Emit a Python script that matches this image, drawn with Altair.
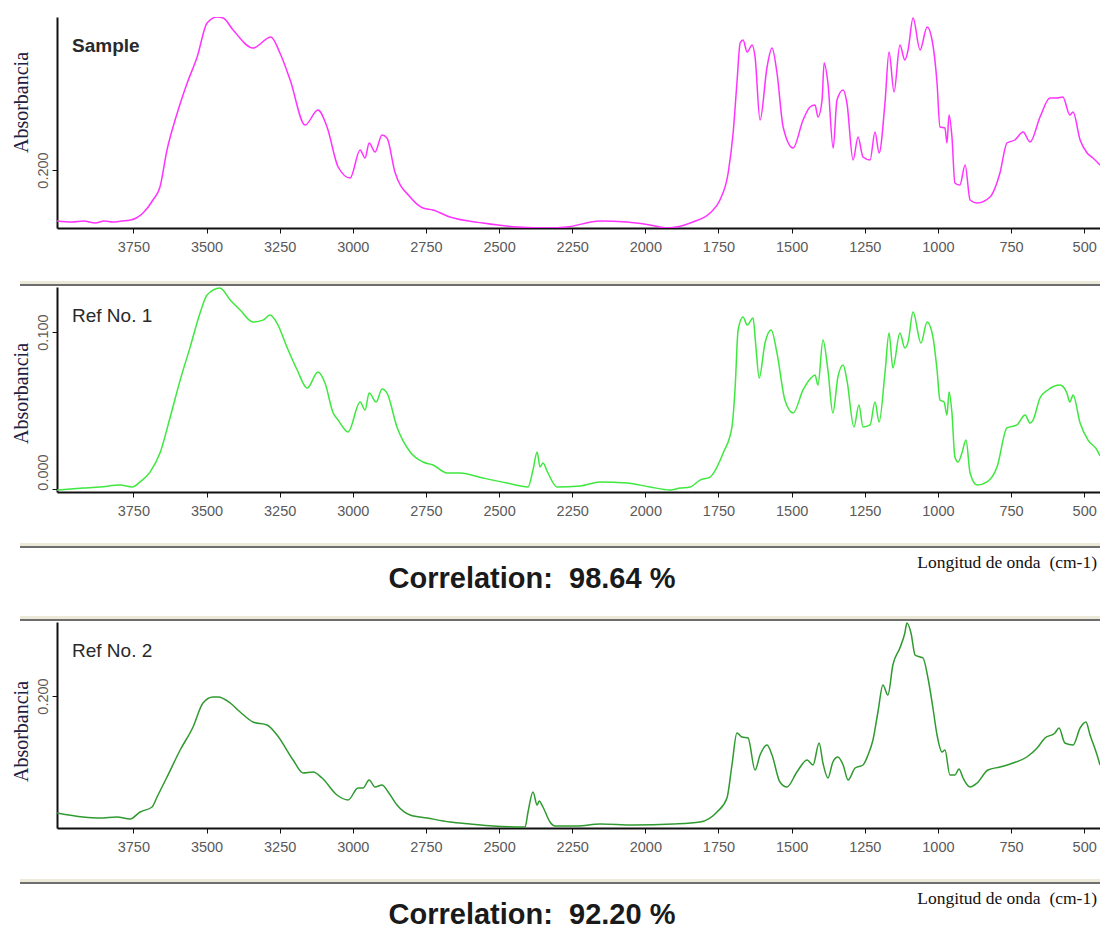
import altair as alt
import pandas as pd

# ---------------- data ----------------
sample_wn = [4011, 3960, 3920, 3880, 3850, 3820, 3790, 3760, 3740, 3717, 3683, 3659, 3635, 3600,
             3566, 3532, 3498, 3464, 3443, 3409, 3341, 3280, 3249, 3214, 3163, 3119, 3088, 3050,
             3009, 2975, 2958, 2944, 2924, 2900, 2883, 2856, 2804, 2760, 2726, 2668, 2555, 2439,
             2326, 2268, 2155, 2063, 1984, 1926, 1837, 1779, 1745, 1717, 1700, 1687, 1676, 1666,
             1652, 1635, 1625, 1608, 1584, 1567, 1550, 1529, 1495, 1461, 1437, 1420, 1410, 1396,
             1389, 1376, 1358, 1345, 1324, 1311, 1290, 1273, 1256, 1232, 1215, 1201, 1181, 1167,
             1150, 1130, 1113, 1102, 1085, 1061, 1037, 1020, 1003, 993, 976, 969, 962, 952, 942,
             925, 907, 890, 866, 822, 788, 764, 737, 709, 685, 651, 617, 593, 573, 549, 538, 514,
             490, 470, 446]
sample_abs = [0.149, 0.148, 0.149, 0.147, 0.149, 0.148, 0.149, 0.150, 0.152, 0.157, 0.170, 0.183,
              0.220, 0.257, 0.287, 0.313, 0.347, 0.353, 0.352, 0.340, 0.322, 0.333, 0.317, 0.290,
              0.245, 0.260, 0.243, 0.203, 0.192, 0.220, 0.212, 0.227, 0.218, 0.235, 0.232, 0.198,
              0.173, 0.162, 0.160, 0.153, 0.147, 0.143, 0.142, 0.143, 0.149, 0.148, 0.145, 0.142,
              0.148, 0.157, 0.170, 0.197, 0.237, 0.287, 0.327, 0.330, 0.318, 0.325, 0.313, 0.250,
              0.303, 0.322, 0.297, 0.243, 0.222, 0.250, 0.263, 0.265, 0.253, 0.270, 0.307, 0.287,
              0.222, 0.270, 0.280, 0.267, 0.210, 0.233, 0.213, 0.210, 0.238, 0.217, 0.267, 0.318,
              0.278, 0.325, 0.310, 0.320, 0.352, 0.320, 0.343, 0.330, 0.287, 0.243, 0.242, 0.227,
              0.255, 0.233, 0.187, 0.185, 0.205, 0.170, 0.167, 0.173, 0.197, 0.227, 0.230, 0.238,
              0.228, 0.253, 0.272, 0.272, 0.273, 0.255, 0.258, 0.230, 0.217, 0.212, 0.205]

ref1_wn = [4011, 3922, 3864, 3795, 3754, 3727, 3693, 3659, 3624, 3590, 3556, 3522, 3498, 3454,
           3419, 3385, 3341, 3307, 3283, 3259, 3225, 3190, 3156, 3119, 3095, 3067, 3050, 3016,
           2975, 2958, 2944, 2920, 2900, 2883, 2849, 2804, 2760, 2726, 2678, 2633, 2555, 2473,
           2401, 2384, 2370, 2360, 2350, 2333, 2302, 2223, 2155, 2063, 1984, 1916, 1881, 1847,
           1813, 1779, 1734, 1704, 1693, 1683, 1666, 1652, 1632, 1622, 1611, 1591, 1570, 1550,
           1523, 1495, 1461, 1434, 1420, 1410, 1393, 1376, 1359, 1342, 1324, 1311, 1287, 1270,
           1256, 1232, 1215, 1201, 1181, 1167, 1154, 1130, 1113, 1102, 1085, 1058, 1037, 1017,
           1003, 993, 979, 969, 962, 952, 942, 931, 918, 904, 890, 866, 832, 798, 764, 730, 702,
           685, 675, 651, 624, 583, 559, 549, 538, 514, 487, 456, 446]
ref1_abs = [-0.0006, 0.0006, 0.0013, 0.0025, 0.0013, 0.0045, 0.0108, 0.0229, 0.0459, 0.0694,
            0.0904, 0.1121, 0.1236, 0.1280, 0.1204, 0.1140, 0.1064, 0.1076, 0.1108, 0.1057,
            0.0904, 0.0758, 0.0643, 0.0745, 0.0675, 0.0484, 0.0439, 0.0363, 0.0554, 0.0503,
            0.0611, 0.0554, 0.0637, 0.0611, 0.0395, 0.0236, 0.0172, 0.0153, 0.0102, 0.0102,
            0.0070, 0.0038, 0.0013, 0.0121, 0.0236, 0.0140, 0.0166, 0.0102, 0.0013, 0.0019,
            0.0045, 0.0038, 0.0013, -0.0006, 0.0006, 0.0013, 0.0057, 0.0076, 0.0229, 0.0395,
            0.0650, 0.1013, 0.1096, 0.1045, 0.1089, 0.0904, 0.0707, 0.0930, 0.1013, 0.0866,
            0.0567, 0.0484, 0.0631, 0.0707, 0.0726, 0.0662, 0.0949, 0.0758, 0.0484, 0.0713,
            0.0790, 0.0694, 0.0395, 0.0535, 0.0395, 0.0408, 0.0554, 0.0427, 0.0739, 0.0994,
            0.0771, 0.0994, 0.0898, 0.0936, 0.1127, 0.0930, 0.1064, 0.0968, 0.0758, 0.0567,
            0.0554, 0.0471, 0.0618, 0.0484, 0.0204, 0.0172, 0.0229, 0.0312, 0.0102, 0.0025,
            0.0045, 0.0140, 0.0389, 0.0408, 0.0471, 0.0420, 0.0439, 0.0580, 0.0631, 0.0662,
            0.0611, 0.0554, 0.0599, 0.0420, 0.0312, 0.0248, 0.0210]

ref2_wn = [4011, 3922, 3864, 3806, 3761, 3727, 3686, 3669, 3635, 3590, 3546, 3512, 3478, 3460,
           3419, 3385, 3341, 3293, 3259, 3204, 3170, 3136, 3105, 3054, 3016, 2982, 2965, 2944,
           2924, 2900, 2879, 2849, 2804, 2746, 2668, 2599, 2521, 2411, 2401, 2384, 2370, 2363,
           2350, 2326, 2309, 2233, 2155, 2042, 1905, 1813, 1755, 1721, 1704, 1687, 1670, 1649,
           1625, 1608, 1584, 1567, 1540, 1516, 1482, 1447, 1427, 1406, 1393, 1376, 1359, 1342,
           1324, 1307, 1283, 1256, 1239, 1222, 1205, 1188, 1171, 1154, 1130, 1113, 1106, 1092,
           1078, 1061, 1051, 1034, 1017, 1003, 986, 976, 959, 942, 928, 914, 890, 866, 829, 788,
           743, 696, 661, 634, 600, 586, 566, 538, 514, 494, 480, 456, 446]
ref2_abs = [0.083, 0.079, 0.078, 0.079, 0.077, 0.084, 0.089, 0.099, 0.119, 0.146, 0.169, 0.193,
            0.199, 0.199, 0.193, 0.184, 0.174, 0.171, 0.161, 0.136, 0.123, 0.124, 0.118, 0.101,
            0.096, 0.108, 0.108, 0.116, 0.109, 0.111, 0.104, 0.091, 0.081, 0.078, 0.074, 0.072,
            0.070, 0.069, 0.084, 0.104, 0.091, 0.095, 0.089, 0.074, 0.070, 0.070, 0.072, 0.071,
            0.072, 0.074, 0.084, 0.098, 0.131, 0.163, 0.159, 0.158, 0.126, 0.141, 0.151, 0.141,
            0.114, 0.109, 0.124, 0.136, 0.131, 0.153, 0.133, 0.118, 0.134, 0.139, 0.131, 0.116,
            0.128, 0.131, 0.141, 0.156, 0.184, 0.211, 0.201, 0.231, 0.248, 0.263, 0.273, 0.263,
            0.241, 0.239, 0.238, 0.218, 0.188, 0.161, 0.144, 0.146, 0.121, 0.121, 0.127, 0.118,
            0.109, 0.113, 0.126, 0.129, 0.133, 0.139, 0.148, 0.158, 0.163, 0.168, 0.153, 0.151,
            0.168, 0.174, 0.161, 0.141, 0.131]

x_ticks = [3750, 3500, 3250, 3000, 2750, 2500, 2250, 2000, 1750, 1500, 1250, 1000, 750, 500]
panel_names = ["Sample", "Ref No. 1", "Ref No. 2"]
correlations = ["Correlation:\u00a0 98.64 %", "Correlation:\u00a0 92.20 %"]
x_title = "Longitud de onda\u00a0 (cm-1)"
y_title = "Absorbancia"

# ---------------- layout / style ----------------
W = 1043
X_DOMAIN = [446, 4011]
SANS = "Liberation Sans"
SERIF = "Liberation Serif"
one = pd.DataFrame({"k": [0]})


def band(y1, y2, color):
    return alt.Chart(one).mark_rect(color=color).encode(
        x=alt.value(-37), x2=alt.value(W), y=alt.value(y1), y2=alt.value(y2))


def separator(y):
    # cream band above a dark groove line
    return [band(y - 5, y - 2, "#ece9d8"), band(y - 2, y, "#6e6e6e")]


def panel(wn, ab, color, name, bold, ydomain, yticks, height, title_y,
          zero_offset=False, top_sep=False, bottom=None, anchor=False):
    df = pd.DataFrame({"wn": wn, "ab": ab})
    label_offset = 0
    if zero_offset:
        label_offset = alt.condition("datum.value < 0.05", alt.value(-17), alt.value(0))
    xaxis = alt.Axis(values=x_ticks, format="d", title=None, grid=False,
                     domainColor="#111111", domainWidth=2, tickColor="#111111",
                     tickSize=5, labelFont=SANS, labelFontSize=14.5, labelColor="#5a5a5a",
                     labelPadding=7, labelFlush=False, labelOverlap=False)
    yaxis = alt.Axis(values=yticks, format=".3f", title=y_title, grid=False,
                     titleFont=SERIF, titleFontSize=20, titleFontWeight="normal",
                     titleColor="#202040", titleAngle=270, titleAlign="center",
                     titleBaseline="bottom", titleX=-26, titleY=title_y,
                     domainColor="#111111", domainWidth=2, tickColor="#111111", tickSize=5,
                     labelAngle=270, labelAlign="center", labelBaseline="bottom",
                     labelFont=SANS, labelFontSize=14.5, labelColor="#5a5a5a",
                     labelPadding=2, labelFlush=False, labelOffset=label_offset)
    line = alt.Chart(df).mark_line(color=color, strokeWidth=1.5, clip=True,
                                   interpolate="monotone").encode(
        x=alt.X("wn:Q", scale=alt.Scale(domain=X_DOMAIN, reverse=True, nice=False, zero=False),
                axis=xaxis),
        y=alt.Y("ab:Q", scale=alt.Scale(domain=ydomain, nice=False, zero=False), axis=yaxis),
    )
    layers = [line]
    lab = alt.Chart(pd.DataFrame({"t": [name]})).mark_text(
        align="left", baseline="alphabetic", font=SANS, fontSize=19,
        fontWeight="bold" if bold else "normal", color="#2a2a2a").encode(
        x=alt.value(15), y=alt.value(35), text="t:N")
    layers.append(lab)
    if anchor:
        layers.append(alt.Chart(one).mark_rule(opacity=0).encode(
            x=alt.value(-57), x2=alt.value(-40), y=alt.value(-17)))
    if top_sep:
        layers += separator(-1)
    if bottom is not None:
        layers += separator(height + 56)
        layers.append(alt.Chart(pd.DataFrame({"t": [x_title]})).mark_text(
            align="right", baseline="alphabetic", font=SERIF, fontSize=17.5,
            color="#111111").encode(x=alt.value(1040), y=alt.value(height + 76), text="t:N"))
        layers.append(alt.Chart(pd.DataFrame({"t": [bottom]})).mark_text(
            align="center", baseline="alphabetic", font=SANS, fontSize=29,
            fontWeight="bold", color="#1a1a1a").encode(
            x=alt.value(475), y=alt.value(height + 96), text="t:N"))
    return alt.layer(*layers).properties(width=W, height=height)


p1 = panel(sample_wn, sample_abs, "#ff33ff", panel_names[0], True, [0.142, 0.353], [0.2],
           211, 85, anchor=True)
p2 = panel(ref1_wn, ref1_abs, "#3ee83e", panel_names[1], False, [-0.0019, 0.1287], [0.0, 0.1],
           205, 106, zero_offset=True, top_sep=True, bottom=correlations[0])
spacer = alt.Chart(pd.DataFrame({"t": [""]})).mark_text().encode(
    text="t:N", x=alt.value(0), y=alt.value(0)).properties(width=W, height=12)
p3 = panel(ref2_wn, ref2_abs, "#2f9a2f", panel_names[2], False, [0.068, 0.274], [0.2],
           206, 109, top_sep=True, bottom=correlations[1])

chart = alt.vconcat(p1, p2, spacer, p3, spacing=59, bounds="flush").properties(
    padding=0).configure_view(strokeWidth=0)

chart.save("out.html", embed_options={"renderer": "svg", "actions": False})
